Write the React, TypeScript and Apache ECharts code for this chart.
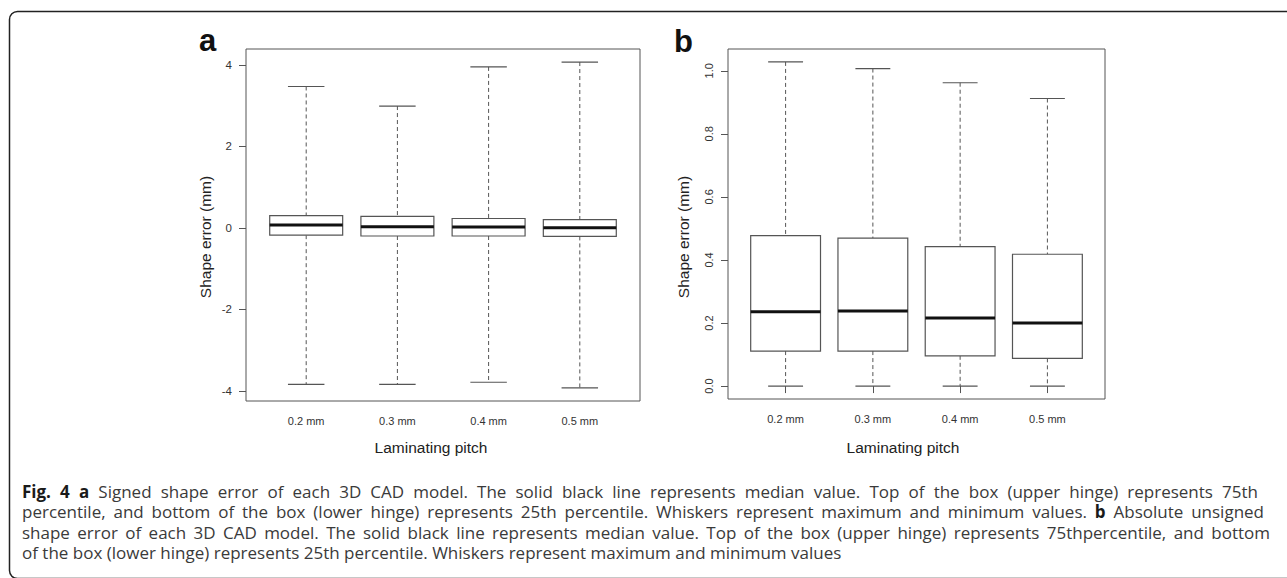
import React, { useEffect, useRef } from 'react';
import * as echarts from 'echarts';

// ---------- data ----------
const categories = ['0.2 mm', '0.3 mm', '0.4 mm', '0.5 mm'];
const positions = [1, 2, 3, 4];

// panel a: signed shape error (mm)
const signedMin = [-3.84, -3.84, -3.79, -3.93];
const signedQ1 = [-0.18, -0.2, -0.2, -0.21];
const signedMedian = [0.07, 0.03, 0.02, 0.0];
const signedQ3 = [0.3, 0.28, 0.23, 0.2];
const signedMax = [3.47, 2.99, 3.95, 4.07];
const signedTicks = [-4, -2, 0, 2, 4];

// panel b: absolute unsigned shape error (mm)
const absMin = [0, 0, 0, 0];
const absQ1 = [0.111, 0.111, 0.096, 0.088];
const absMedian = [0.236, 0.238, 0.216, 0.2];
const absQ3 = [0.477, 0.469, 0.442, 0.418];
const absMax = [1.028, 1.007, 0.962, 0.912];
const absTicks = [0, 0.2, 0.4, 0.6, 0.8, 1.0];

const yTitle = 'Shape error (mm)';
const xTitle = 'Laminating pitch';

// caption lines; words wrapped in * are bold
const captionLines = [
  '*Fig.* *4* *a* Signed shape error of each 3D CAD model. The solid black line represents median value. Top of the box (upper hinge) represents 75th',
  'percentile, and bottom of the box (lower hinge) represents 25th percentile. Whiskers represent maximum and minimum values. *b* Absolute unsigned',
  'shape error of each 3D CAD model. The solid black line represents median value. Top of the box (upper hinge) represents 75thpercentile, and bottom',
  'of the box (lower hinge) represents 25th percentile. Whiskers represent maximum and minimum values',
];
const captionRight = [1258, 1264, 1270, null];
const captionY = [491, 511.5, 532, 552.5];

const FONT = '"Liberation Sans", Arial, sans-serif';
const CAP_FONT = '"Open Sans", sans-serif';
const CAP_SIZE = 17;

function makeRows(mn: number[], q1: number[], md: number[], q3: number[], mx: number[]) {
  return positions.map((p, i) => [p, mn[i], q1[i], md[i], q3[i], mx[i]]);
}

function boxRender(params: any, api: any) {
  const x = api.value(0);
  const mn = api.value(1);
  const q1 = api.value(2);
  const md = api.value(3);
  const q3 = api.value(4);
  const mx = api.value(5);
  const bw = 0.4;
  const cw = 0.2;
  const c = (xx: number, yy: number) => api.coord([xx, yy]);
  const pMax = c(x, mx);
  const pQ3 = c(x, q3);
  const pQ1 = c(x, q1);
  const pMin = c(x, mn);
  const tl = c(x - bw, q3);
  const br = c(x + bw, q1);
  const cap1L = c(x - cw, mx);
  const cap1R = c(x + cw, mx);
  const cap2L = c(x - cw, mn);
  const cap2R = c(x + cw, mn);
  const mL = c(x - bw, md);
  const mR = c(x + bw, md);
  const stroke = '#555';
  return {
    type: 'group',
    children: [
      { type: 'line', shape: { x1: pMax[0], y1: pMax[1], x2: pQ3[0], y2: pQ3[1] }, style: { stroke, lineWidth: 1, lineDash: [4, 3] } },
      { type: 'line', shape: { x1: pQ1[0], y1: pQ1[1], x2: pMin[0], y2: pMin[1] }, style: { stroke, lineWidth: 1, lineDash: [4, 3] } },
      { type: 'line', shape: { x1: cap1L[0], y1: cap1L[1], x2: cap1R[0], y2: cap1R[1] }, style: { stroke, lineWidth: 1.2 } },
      { type: 'line', shape: { x1: cap2L[0], y1: cap2L[1], x2: cap2R[0], y2: cap2R[1] }, style: { stroke, lineWidth: 1.2 } },
      { type: 'rect', shape: { x: tl[0], y: tl[1], width: br[0] - tl[0], height: br[1] - tl[1] }, style: { fill: '#fff', stroke, lineWidth: 1.2 } },
      { type: 'line', shape: { x1: mL[0], y1: mL[1], x2: mR[0], y2: mR[1] }, style: { stroke: '#111', lineWidth: 3 } },
    ],
  };
}

function buildCaption(): any[] {
  const canvas = document.createElement('canvas');
  const ctx = canvas.getContext('2d') as CanvasRenderingContext2D;
  const measure = (t: string, size: number, bold: boolean) => {
    ctx.font = `${bold ? 'bold ' : ''}${size}px "Open Sans"`;
    return ctx.measureText(t).width;
  };
  const left = 22;
  const size = CAP_SIZE;
  const space = measure(' ', size, false);
  const out: any[] = [];
  captionLines.forEach((line, li) => {
    const words = line.split(' ').map((w) => {
      const bold = w.startsWith('*') && w.endsWith('*');
      return { t: bold ? w.slice(1, -1) : w, bold };
    });
    const widths = words.map((w) => measure(w.t, size, w.bold));
    const total = widths.reduce((a, b) => a + b, 0);
    const right = captionRight[li];
    const gap = right != null ? Math.max(2, (right - left - total) / (words.length - 1)) : space;
    let x = left;
    words.forEach((w, i) => {
      out.push({
        type: 'text',
        x,
        y: captionY[li],
        silent: true,
        style: {
          text: w.t,
          fontSize: size,
          lineHeight: 19,
          fontFamily: CAP_FONT,
          fontWeight: w.bold ? 'bold' : 'normal',
          fill: w.bold ? '#1a1a1a' : '#3a3a3a',
          align: 'left',
          verticalAlign: 'middle',
        },
      });
      x += widths[i] + gap;
    });
  });
  return out;
}

function axisCommon() {
  return {
    axisLine: { show: false },
    splitLine: { show: false },
  };
}

export default function App() {
  const ref = useRef<HTMLDivElement>(null);
  useEffect(() => {
    if (!ref.current) return;
    const chart = echarts.init(ref.current, undefined, { renderer: 'svg' });
    const tickStyle = { color: '#555', width: 1 };
    const option: any = {
      animation: false,
      backgroundColor: '#fff',
      grid: [
        { left: 246, top: 49, width: 394, height: 352, show: true, borderColor: '#555', borderWidth: 1, backgroundColor: 'transparent' },
        { left: 728, top: 49, width: 377, height: 350, show: true, borderColor: '#555', borderWidth: 1, backgroundColor: 'transparent' },
      ],
      xAxis: [0, 1].map((g) => ({
        type: 'value',
        gridIndex: g,
        min: 0.34,
        max: 4.66,
        ...axisCommon(),
        axisTick: { show: true, inside: false, length: 7, customValues: positions, lineStyle: tickStyle },
        axisLabel: {
          customValues: positions,
          formatter: (v: number) => categories[Math.round(v) - 1] ?? '',
          margin: 14,
          fontSize: 11,
          fontFamily: FONT,
          color: '#333',
        },
      })),
      yAxis: [
        {
          type: 'value',
          gridIndex: 0,
          min: -4.25,
          max: 4.39,
          ...axisCommon(),
          axisTick: { show: true, inside: false, length: 7, customValues: signedTicks, lineStyle: tickStyle },
          axisLabel: {
            customValues: signedTicks,
            formatter: (v: number) => String(v),
            margin: 14,
            fontSize: 11.5,
            fontFamily: FONT,
            color: '#333',
          },
        },
        {
          type: 'value',
          gridIndex: 1,
          min: -0.041,
          max: 1.069,
          ...axisCommon(),
          axisTick: { show: true, inside: false, length: 7, customValues: absTicks, lineStyle: tickStyle },
          axisLabel: {
            customValues: absTicks,
            formatter: (v: number) => v.toFixed(1),
            rotate: 90,
            margin: 14,
            fontSize: 11,
            fontFamily: FONT,
            color: '#333',
          },
        },
      ],
      series: [
        {
          type: 'custom',
          name: 'Signed shape error',
          xAxisIndex: 0,
          yAxisIndex: 0,
          coordinateSystem: 'cartesian2d',
          renderItem: boxRender,
          encode: { x: 0, y: [1, 2, 3, 4, 5] },
          data: makeRows(signedMin, signedQ1, signedMedian, signedQ3, signedMax),
          silent: true,
        },
        {
          type: 'custom',
          name: 'Absolute unsigned shape error',
          xAxisIndex: 1,
          yAxisIndex: 1,
          coordinateSystem: 'cartesian2d',
          renderItem: boxRender,
          encode: { x: 0, y: [1, 2, 3, 4, 5] },
          data: makeRows(absMin, absQ1, absMedian, absQ3, absMax),
          silent: true,
        },
      ],
      graphic: [
        {
          type: 'rect',
          silent: true,
          shape: { x: 9.5, y: 11.5, width: 1300, height: 567, r: 8 },
          style: { fill: 'none', stroke: '#222', lineWidth: 1.5 },
        },
        { type: 'text', x: 199, y: 40.5, silent: true, style: { text: 'a', fontSize: 31, fontWeight: 'bold', fontFamily: FONT, fill: '#111', align: 'left', verticalAlign: 'middle' } },
        { type: 'text', x: 674, y: 41.5, silent: true, style: { text: 'b', fontSize: 31, fontWeight: 'bold', fontFamily: FONT, fill: '#111', align: 'left', verticalAlign: 'middle' } },
        { type: 'text', x: 205, y: 237, rotation: Math.PI / 2, silent: true, style: { text: yTitle, fontSize: 15.5, fontFamily: FONT, fill: '#222', align: 'center', verticalAlign: 'middle' } },
        { type: 'text', x: 683, y: 237, rotation: Math.PI / 2, silent: true, style: { text: yTitle, fontSize: 15.5, fontFamily: FONT, fill: '#222', align: 'center', verticalAlign: 'middle' } },
        { type: 'text', x: 431, y: 447, silent: true, style: { text: xTitle, fontSize: 15.5, fontFamily: FONT, fill: '#222', align: 'center', verticalAlign: 'middle' } },
        { type: 'text', x: 903, y: 447, silent: true, style: { text: xTitle, fontSize: 15.5, fontFamily: FONT, fill: '#222', align: 'center', verticalAlign: 'middle' } },
        ...buildCaption(),
      ],
    };
    chart.setOption(option);
    return () => chart.dispose();
  }, []);
  return (
    <div
      ref={ref}
      style={{ position: 'fixed', left: 0, top: 0, width: 1287, height: 578, background: '#fff' }}
    />
  );
}
